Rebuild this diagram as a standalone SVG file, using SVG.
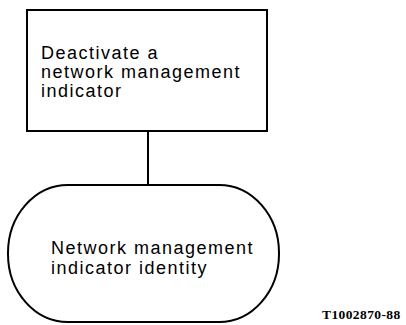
<svg xmlns="http://www.w3.org/2000/svg" width="406" height="325" viewBox="0 0 406 325">
<style>
.box{fill:#fff;stroke:#000;stroke-width:2}
.lbl{font-family:"Liberation Sans",Arial,sans-serif;font-size:18px;letter-spacing:1.5px;fill:#000}
.conn{stroke:#000;stroke-width:2;fill:none}
.code{font-family:"Liberation Serif","Times New Roman",serif;font-size:13.5px;font-weight:bold;letter-spacing:0.4px;fill:#000}
</style>
<rect width="406" height="325" fill="#fff"/>
<g id="connectors">
<line class="conn" x1="148" y1="131" x2="148" y2="185"/>
</g>
<g id="node-deactivate">
<rect class="box" x="27" y="10" width="240" height="121"/>
<text class="lbl" x="41" y="59">Deactivate a</text>
<text class="lbl" x="41" y="78">network management</text>
<text class="lbl" x="41" y="97">indicator</text>
</g>
<g id="node-identity">
<rect class="box" x="8" y="185" width="271" height="137" rx="60" ry="68"/>
<text class="lbl" x="51" y="254">Network management</text>
<text class="lbl" x="51" y="274">indicator identity</text>
</g>
<text class="code" x="322" y="319">T1002870-88</text>
</svg>
